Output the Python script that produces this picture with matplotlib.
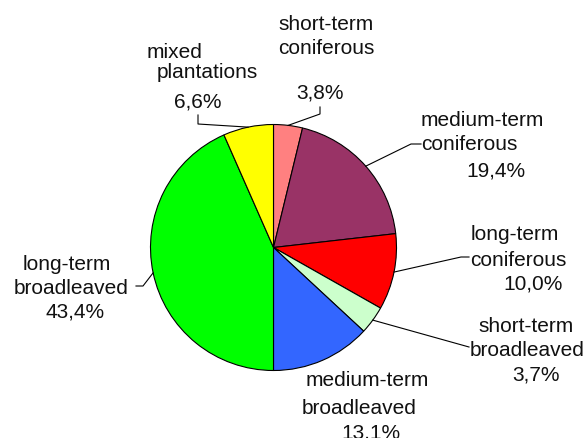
import numpy as np
import matplotlib
matplotlib.use('Agg')
import matplotlib.pyplot as plt

#%% data
categories = ['short-term coniferous', 'medium-term coniferous', 'long-term coniferous',
              'short-term broadleaved', 'medium-term broadleaved', 'long-term broadleaved',
              'mixed plantations']
shares = [3.8, 19.4, 10.0, 3.7, 13.1, 43.4, 6.6]
colors = ['#FF8080', '#993366', '#FF0000', '#CCFFCC', '#3366FF', '#00FF00', '#FFFF00']
pct_labels = ['3,8%', '19,4%', '10,0%', '3,7%', '13,1%', '43,4%', '6,6%']

#%% plot parameters
plt.rcdefaults()
plt.rcParams.update({
    'font.family': ['Liberation Sans', 'DejaVu Sans'],
    'font.size': 15,
})

W, H = 587, 438
fig = plt.figure(figsize=(W / 100, H / 100), dpi=100)
ax = fig.add_axes([0, 0, 1, 1])

cx, cy, r = 273.5, H - 247.5, 123  # pie centre / radius in pixel units

wedges, _ = ax.pie(shares, colors=colors, startangle=90, counterclock=False,
                   center=(cx, cy), radius=r,
                   wedgeprops=dict(edgecolor='black', linewidth=0.8))
ax.set_xlim(0, W)
ax.set_ylim(0, H)
ax.set_aspect('equal')
ax.axis('off')

# anchor points on the rim at wedge mid angles
anchors = []
for w in wedges:
    a = np.deg2rad((w.theta1 + w.theta2) / 2)
    anchors.append((cx + r * np.cos(a), cy + r * np.sin(a)))

# label text lines: (text, x, y_from_top, ha)
label_lines = [
    [('short-term', 326, 25, 'center'), ('coniferous', 326, 48, 'center'), (pct_labels[0], 320, 93, 'center')],
    [('medium-term', 421, 120, 'left'), ('coniferous', 421, 144, 'left'), (pct_labels[1], 496, 171, 'center')],
    [('long-term', 515, 235, 'center'), ('coniferous', 518, 260, 'center'), (pct_labels[2], 533, 284, 'center')],
    [('short-term', 526, 326, 'center'), ('broadleaved', 527, 351, 'center'), (pct_labels[3], 536, 375, 'center')],
    [('medium-term', 367, 380, 'center'), ('broadleaved', 359, 408, 'center'), (pct_labels[4], 371, 433, 'center')],
    [('long-term', 67, 265, 'center'), ('broadleaved', 71, 288, 'center'), (pct_labels[5], 75, 312, 'center')],
    [('mixed', 175, 53, 'center'), ('plantations', 207, 72, 'center'), (pct_labels[6], 198, 102, 'center')],
]
for lines in label_lines:
    for txt, x, y, ha in lines:
        ax.text(x, H - y, txt, ha=ha, va='center', fontsize=15, color='#111111')

# leader elbows (pixel coords from top), None = no leader
leaders = [
    [(320, 114), (320, 107)],
    [(411, 144), (421, 144)],
    [(461, 257), (469, 257)],
    [(469, 347)],
    None,
    [(143, 286), (136, 286)],
    [(198, 124), (198, 115)],
]
for (ax0, ay0), pts in zip(anchors, leaders):
    if pts is None:
        continue
    xs = [ax0] + [p[0] for p in pts]
    ys = [ay0] + [H - p[1] for p in pts]
    ax.plot(xs, ys, color='black', linewidth=0.8)

fig.savefig('out.png', dpi=100)
